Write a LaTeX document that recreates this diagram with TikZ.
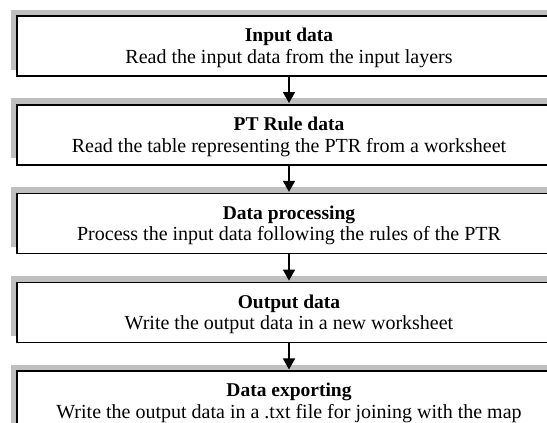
\documentclass[tikz,border=0pt]{standalone}
\usepackage{fontspec}
\setmainfont{Liberation Serif}
\usetikzlibrary{arrows.meta,shadows}
\begin{document}
\begin{tikzpicture}[x=1pt,y=-1pt,
    stagebox/.style={draw=black, line width=1.5pt, fill=white, minimum width=544pt, minimum height=60pt, inner sep=0pt,
      drop shadow={shadow xshift=-6pt, shadow yshift=6.5pt, fill=black!25, opacity=1}},
    stagetitle/.style={anchor=base, inner sep=0pt, font=\fontsize{19.5}{22}\selectfont\bfseries},
    stagetext/.style={anchor=base, inner sep=0pt, font=\fontsize{20}{22}\selectfont},
    flow/.style={line width=1.5pt, -{Triangle[length=11pt,width=12pt]}, shorten >=1pt}] %5
            \useasboundingbox (0,0) rectangle (547,423);
            \clip (0,0) rectangle (547,423);

            \node[stagebox] (input) at (289,46) {};
            \node[stagebox] (ptrule) at (289,134.8) {};
            \node[stagebox] (process) at (289,223.6) {};
            \node[stagebox] (output) at (289,312.4) {};
            \node[stagebox] (export) at (289,401.2) {};

            \node[stagetitle] (inputT) at ([yshift=-26.5pt]input.north) {Input data};
            \node[stagetext] (inputD) at ([yshift=-48pt]input.north) {Read the input data from the input layers};
            \node[stagetitle] (ptruleT) at ([yshift=-26.5pt]ptrule.north) {PT Rule data};
            \node[stagetext] (ptruleD) at ([yshift=-48pt]ptrule.north) {Read the table representing the PTR from a worksheet};
            \node[stagetitle] (processT) at ([yshift=-26.5pt]process.north) {Data processing};
            \node[stagetext] (processD) at ([yshift=-48pt]process.north) {Process the input data following the rules of the PTR};
            \node[stagetitle] (outputT) at ([yshift=-26.5pt]output.north) {Output data};
            \node[stagetext] (outputD) at ([yshift=-48pt]output.north) {Write the output data in a new worksheet};
            \node[stagetitle] (exportT) at ([yshift=-26.5pt]export.north) {Data exporting};
            \node[stagetext] (exportD) at ([yshift=-48pt]export.north) {Write the output data in a .txt file for joining with the map};

            \draw[flow] (input) -- (ptrule);
            \draw[flow] (ptrule) -- (process);
            \draw[flow] (process) -- (output);
            \draw[flow] (output) -- (export);
        \end{tikzpicture}
\end{document}
